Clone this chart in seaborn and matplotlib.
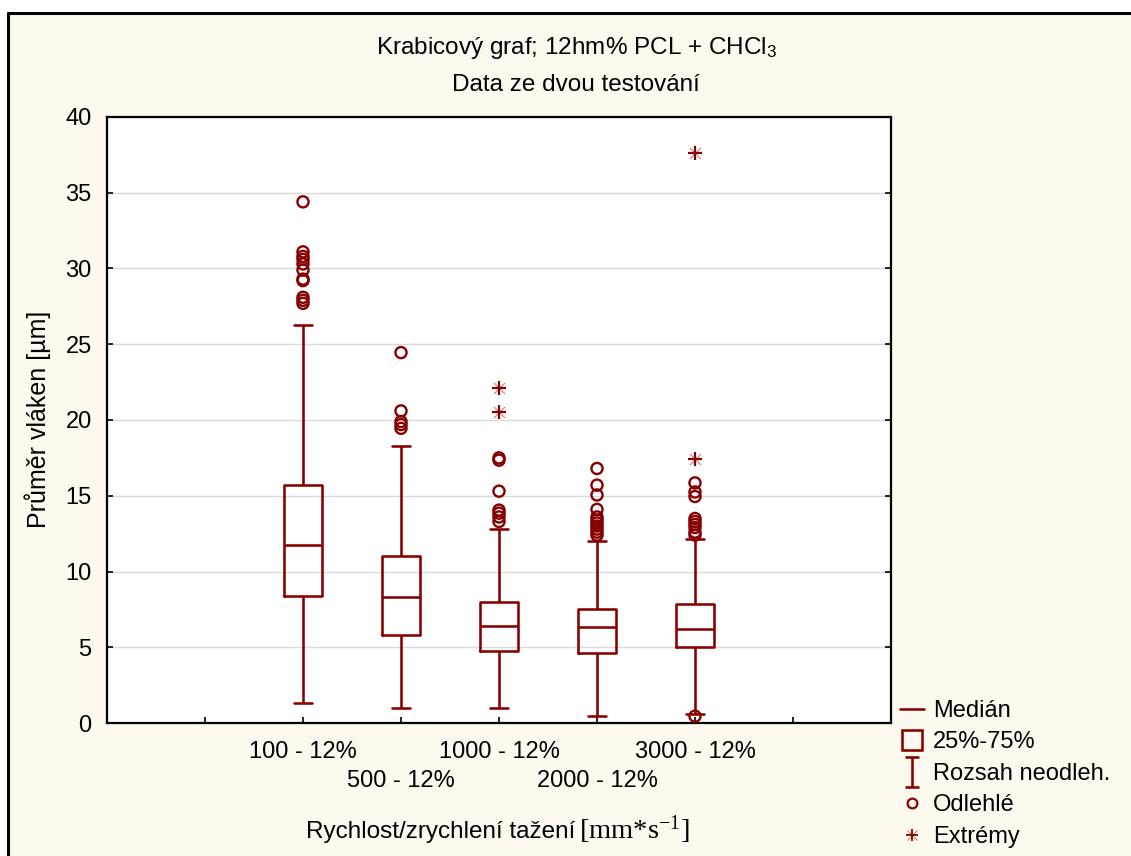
import numpy as np
import pandas as pd
import seaborn as sns
import matplotlib.pyplot as plt
import matplotlib.transforms as mtransforms
from matplotlib.lines import Line2D
from matplotlib.patches import Rectangle
from matplotlib.path import Path

# ---- data: fibre diameter [um] per drawing speed ----
categories = ["100 - 12%", "500 - 12%", "1000 - 12%", "2000 - 12%", "3000 - 12%"]
whisker_low = [1.32, 0.99, 1.0, 0.48, 0.62]
q1 = [8.38, 5.81, 4.77, 4.6, 5.02]
median = [11.75, 8.32, 6.42, 6.32, 6.2]
q3 = [15.7, 11.02, 8.0, 7.5, 7.88]
whisker_high = [26.3, 18.28, 12.8, 12.03, 12.15]

outliers = {
    "100 - 12%": [34.4, 31.1, 30.8, 30.6, 30.3, 29.9, 29.3, 29.2, 28.1, 27.9, 27.7],
    "500 - 12%": [24.45, 20.6, 19.9, 19.7, 19.45],
    "1000 - 12%": [17.5, 17.35, 15.3, 14.05, 13.85, 13.6, 13.3],
    "2000 - 12%": [16.8, 15.7, 15.05, 14.1, 13.6, 13.4, 13.2, 13.0, 12.8, 12.6, 12.4],
    "3000 - 12%": [15.85, 15.25, 14.95, 13.5, 13.3, 13.1, 12.9, 12.6, 12.4, 0.45],
}
extremes = {
    "1000 - 12%": [22.1, 20.5],
    "3000 - 12%": [37.6, 17.45],
}

y_ticks = [0, 5, 10, 15, 20, 25, 30, 35, 40]

# ---- styling ----
sns.set_theme(style="white")
plt.rcParams["font.family"] = ["Liberation Sans", "DejaVu Sans"]
plt.rcParams["mathtext.fontset"] = "custom"
plt.rcParams["mathtext.rm"] = "Liberation Serif"
plt.rcParams["mathtext.sf"] = "Liberation Sans"
plt.rcParams["mathtext.it"] = "Liberation Serif:italic"
plt.rcParams["text.color"] = "black"
plt.rcParams["axes.labelcolor"] = "black"
plt.rcParams["xtick.color"] = "black"
plt.rcParams["ytick.color"] = "black"

RED = "#860000"
CREAM = "#fdf9ee"
W, H = 1131, 856
FS = 17
LW = 1.85

fig = plt.figure(figsize=(W / 100, H / 100), dpi=100, facecolor="white")

# cream panel with a black border on its left and top edges
fig.patches.append(Rectangle((8 / W, 0), 1, 1 - 13 / H, transform=fig.transFigure,
                             facecolor=CREAM, edgecolor="none", zorder=-10))
fig.lines.append(Line2D([8 / W, 8 / W], [0, 1 - 13 / H], transform=fig.transFigure,
                        color="black", lw=2.2))
fig.lines.append(Line2D([8 / W, 1], [1 - 13 / H, 1 - 13 / H], transform=fig.transFigure,
                        color="black", lw=2.2))

ax = fig.add_axes([107 / W, 1 - 723 / H, (891 - 107) / W, (723 - 117) / H])
ax.set_facecolor("white")

# box/whisker frame: five summary values per group
box_df = pd.DataFrame({
    "group": np.repeat(categories, 5),
    "value": np.ravel(np.column_stack([whisker_low, q1, median, q3, whisker_high])),
})
sns.boxplot(data=box_df, x="group", y="value", order=categories, whis=(0, 100),
            width=0.38, fill=False, color=RED, linewidth=LW, showfliers=False, ax=ax)

# outliers (open circles)
out_df = pd.DataFrame([(g, v) for g, vals in outliers.items() for v in vals],
                      columns=["group", "value"])
n0 = len(ax.collections)
sns.stripplot(data=out_df, x="group", y="value", order=categories, jitter=False,
              marker="o", size=8, color=RED, linewidth=1.7, ax=ax)
for coll in ax.collections[n0:]:
    coll.set_facecolor("none")
    coll.set_edgecolor(RED)
    coll.set_linewidth(1.7)

# extremes (asterisk-like marks)
ext_df = pd.DataFrame([(g, v) for g, vals in extremes.items() for v in vals],
                      columns=["group", "value"])
for mk, lw, alpha, sz in [("+", 1.6, 1.0, 10), ("x", 0.9, 0.45, 8)]:
    n0 = len(ax.collections)
    sns.stripplot(data=ext_df, x="group", y="value", order=categories, jitter=False,
                  marker=mk, size=sz, color=RED, linewidth=lw, ax=ax)
    for coll in ax.collections[n0:]:
        coll.set_facecolor(RED)
        coll.set_edgecolor(RED)
        coll.set_linewidth(lw)
        coll.set_alpha(alpha)

# ---- axes ----
ax.set_xlim(-2, 6)
ax.set_ylim(0, 40)
ax.set_yticks(y_ticks)
ax.set_yticklabels([str(t) for t in y_ticks])
ax.set_xticks(list(range(-1, 6)))
# alternate category labels on two rows
ax.set_xticklabels([""] + [c if i % 2 == 0 else "" for i, c in enumerate(categories)] + [""])
row2 = mtransforms.offset_copy(
    mtransforms.blended_transform_factory(ax.transData, ax.transAxes),
    fig=fig, x=0, y=-58, units="dots")
for i, c in enumerate(categories):
    if i % 2 == 1:
        ax.text(i, 0, c, transform=row2, ha="center", va="center", fontsize=FS,
                color="black", clip_on=False)

ax.tick_params(axis="both", direction="in", length=4, width=1.2, colors="black",
               labelsize=FS, labelcolor="black")
ax.tick_params(axis="x", pad=13, bottom=True)
ax.tick_params(axis="y", pad=11, left=True, right=True)
ax.grid(axis="y", color="#dadada", lw=1)
ax.grid(axis="x", visible=False)
ax.set_axisbelow(True)
for sp in ax.spines.values():
    sp.set_visible(True)
    sp.set_color("black")
    sp.set_linewidth(1.6)

ax.set_xlabel("")
ax.set_ylabel("")
# x-axis title: sans text followed by a serif unit
fig.text(575 / W, 1 - 832 / H, "Rychlost/zrychlení tažení",
         ha="right", va="center", fontsize=17.5)
fig.text(579 / W, 1 - 830 / H, r"$\mathrm{[mm{*}s^{-1}]}$",
         ha="left", va="center", fontsize=20.5)
fig.text(38 / W, 1 - 419 / H, "Průměr vláken [µm]", rotation=90,
         ha="center", va="center", fontsize=18)

# titles
fig.text(577 / W, 1 - 48 / H, r"Krabicový graf; 12hm% PCL + $\mathsf{CHCl_3}$",
         ha="center", va="center", fontsize=17.5)
fig.text(576 / W, 1 - 85 / H, "Data ze dvou testování",
         ha="center", va="center", fontsize=17.5)

# ---- legend ----
ibeam = Path([(0, -1), (0, 1), (-0.45, 1), (0.45, 1), (-0.45, -1), (0.45, -1)],
             [Path.MOVETO, Path.LINETO, Path.MOVETO, Path.LINETO, Path.MOVETO, Path.LINETO])
handles = [
    Line2D([], [], color=RED, lw=LW),
    Line2D([], [], marker="s", ls="none", mfc="none", mec=RED, mew=LW, ms=15),
    Line2D([], [], marker=ibeam, ls="none", mfc="none", mec=RED, mew=LW, ms=22),
    Line2D([], [], marker="o", ls="none", mfc="none", mec=RED, mew=1.6, ms=7),
    (Line2D([], [], marker="+", ls="none", mec=RED, mew=1.3, ms=9),
     Line2D([], [], marker="x", ls="none", mec=RED, mew=0.8, ms=7, alpha=0.45)),
]
labels = ["Medián", "25%-75%", "Rozsah neodleh.", "Odlehlé", "Extrémy"]
fig.legend(handles, labels, loc="upper left", bbox_to_anchor=(900 / W, 1 - 700 / H),
           frameon=False, fontsize=FS, handlelength=1.0, handletextpad=0.4,
           labelspacing=0.4, borderaxespad=0, borderpad=0, labelcolor="black")

fig.savefig("out.png", dpi=100, facecolor="white")
